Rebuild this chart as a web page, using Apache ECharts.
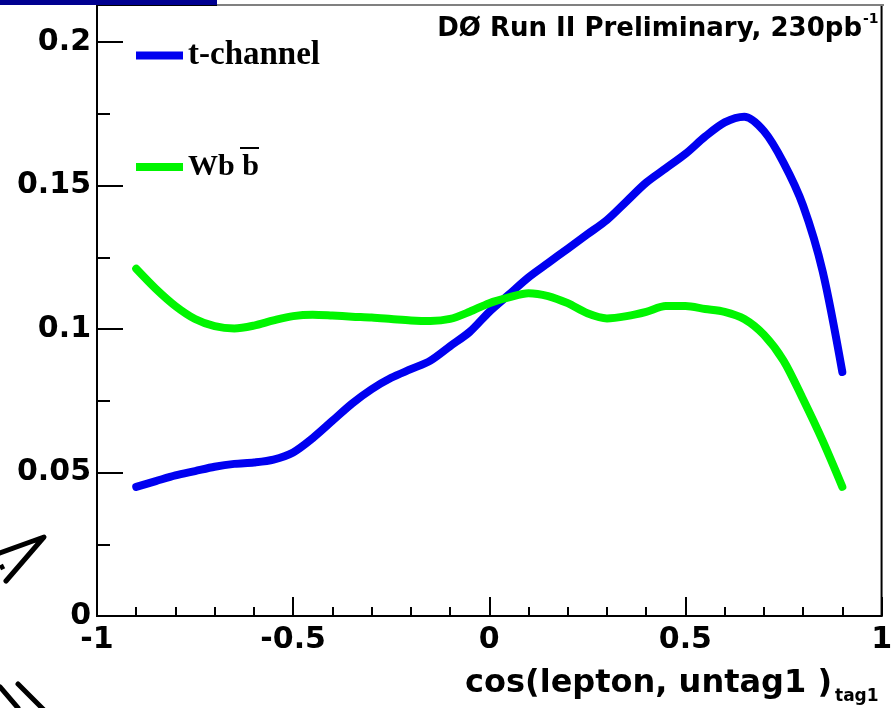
<!DOCTYPE html>
<html>
<head>
<meta charset="utf-8">
<script src="https://cdn.jsdelivr.net/npm/echarts@6/dist/echarts.min.js"></script>
<style>
html,body{margin:0;padding:0;background:#fff;}
#chart{width:895px;height:708px;}
</style>
</head>
<body>
<div id="chart"></div>
<script>
const xPoints = [-0.9,-0.85,-0.8,-0.75,-0.7,-0.65,-0.6,-0.55,-0.5,-0.45,-0.4,-0.35,-0.3,-0.25,-0.2,-0.15,-0.1,-0.05,0,0.05,0.1,0.15,0.2,0.25,0.3,0.35,0.4,0.45,0.5,0.55,0.6,0.65,0.7,0.75,0.8,0.85,0.9];
const tChannel = [0.045,0.047,0.049,0.0505,0.052,0.053,0.0535,0.0545,0.057,0.062,0.068,0.074,0.079,0.083,0.086,0.089,0.094,0.099,0.106,0.112,0.118,0.123,0.128,0.133,0.138,0.1445,0.151,0.156,0.161,0.167,0.172,0.174,0.169,0.158,0.143,0.120,0.085];
const wbb = [0.121,0.114,0.108,0.1035,0.101,0.1002,0.1012,0.103,0.1045,0.105,0.1047,0.1043,0.104,0.1035,0.103,0.1028,0.1035,0.106,0.109,0.111,0.1125,0.1115,0.109,0.1055,0.1037,0.1045,0.106,0.108,0.108,0.107,0.106,0.1035,0.098,0.089,0.0755,0.061,0.045];
const seriesNames = ['t-channel', 'Wbb'];
const yTickLabels = ['0', '0.05', '0.1', '0.15', '0.2'];
const xTickLabels = ['-1', '-0.5', '0', '0.5', '1'];
const titleText = 'DØ Run II Preliminary, 230pb';
const xTitleMain = 'cos(lepton, untag1 )';
const xTitleSub = 'tag1';

const chart = echarts.init(document.getElementById('chart'), null, {renderer: 'canvas'});
const pair = (ys) => xPoints.map((x, i) => [x, ys[i]]);
const labelFont = {fontFamily: 'DejaVu Sans', fontWeight: 'bold', fontSize: 30, color: '#000'};

function fmtY(v) {
  const s = String(+v.toFixed(3));
  return yTickLabels.indexOf(s) >= 0 ? s : '';
}
function fmtX(v) {
  const s = String(+v.toFixed(3));
  return xTickLabels.indexOf(s) >= 0 ? s : '';
}

const option = {
  animation: false,
  backgroundColor: '#fff',
  grid: {left: 97, right: 12, top: 5, bottom: 92, show: true, borderColor: '#000', borderWidth: 2, backgroundColor: 'transparent'},
  xAxis: [
    {type: 'value', min: -1, max: 1, interval: 0.5, position: 'bottom',
     axisLine: {show: true, onZero: false, lineStyle: {color: '#000', width: 2}},
     axisTick: {show: true, inside: true, length: 19, lineStyle: {color: '#000', width: 2}},
     axisLabel: Object.assign({margin: 9, formatter: fmtX, showMinLabel: true, showMaxLabel: true}, labelFont),
     splitLine: {show: false}},
    {type: 'value', min: -1, max: 1, interval: 0.1, position: 'bottom',
     axisLine: {show: false, onZero: false},
     axisTick: {show: true, inside: true, length: 9, lineStyle: {color: '#000', width: 2}},
     axisLabel: {show: false}, splitLine: {show: false}}
  ],
  yAxis: [
    {type: 'value', min: 0, max: 0.2129, interval: 0.05, position: 'left',
     axisLine: {show: true, onZero: false, lineStyle: {color: '#000', width: 2}},
     axisTick: {show: true, inside: true, length: 26, lineStyle: {color: '#000', width: 2}},
     axisLabel: Object.assign({margin: 6, formatter: fmtY, showMaxLabel: false}, labelFont),
     splitLine: {show: false}},
    {type: 'value', min: 0, max: 0.2129, interval: 0.025, position: 'left',
     axisLine: {show: false, onZero: false},
     axisTick: {show: true, inside: true, length: 13, lineStyle: {color: '#000', width: 2}},
     axisLabel: {show: false}, splitLine: {show: false}}
  ],
  legend: {
    orient: 'vertical', left: 131, top: 34, itemWidth: 47, itemHeight: 8, itemGap: 80,
    icon: 'rect', selectedMode: false,
    data: [
      {name: seriesNames[0], textStyle: {fontSize: 33}},
      {name: seriesNames[1]}
    ],
    formatter: (n) => n === 'Wbb' ? '{a|Wb} {a|b}' : n,
    textStyle: {fontFamily: 'Liberation Serif', fontWeight: 'bold', fontSize: 30, lineHeight: 30, color: '#000',
      rich: {a: {fontFamily: 'Liberation Serif', fontWeight: 'bold', fontSize: 30, lineHeight: 30, color: '#000'}}}
  },
  series: [
    {name: seriesNames[0], type: 'line', xAxisIndex: 0, yAxisIndex: 0, data: pair(tChannel), smooth: 0.3,
     showSymbol: false, lineStyle: {color: '#0000f0', width: 8, cap: 'round', join: 'round'}, itemStyle: {color: '#0000f0'}},
    {name: seriesNames[1], type: 'line', xAxisIndex: 0, yAxisIndex: 0, data: pair(wbb), smooth: 0.3,
     showSymbol: false, lineStyle: {color: '#00f500', width: 8, cap: 'round', join: 'round'}, itemStyle: {color: '#00f500'}}
  ],
  graphic: [
    {type: 'line', z: 100, shape: {x1: 217, y1: 5, x2: 884, y2: 5}, style: {stroke: '#808080', lineWidth: 2}},
    {type: 'rect', z: 101, shape: {x: 0, y: 0, width: 217, height: 5}, style: {fill: '#000090'}},
    {type: 'text', z: 100, style: {x: 862, y: 29, text: titleText, textAlign: 'right', textVerticalAlign: 'middle',
      font: 'bold 26px "DejaVu Sans"', fill: '#000'}},
    {type: 'text', z: 100, style: {x: 863, y: 19, text: '-1', textAlign: 'left', textVerticalAlign: 'middle',
      font: 'bold 14px "DejaVu Sans"', fill: '#000'}},
    {type: 'text', z: 100, style: {x: 832, y: 684, text: xTitleMain, textAlign: 'right', textVerticalAlign: 'middle',
      font: 'bold 32px "DejaVu Sans"', fill: '#000'}},
    {type: 'text', z: 100, style: {x: 835, y: 697, text: xTitleSub, textAlign: 'left', textVerticalAlign: 'middle',
      font: 'bold 17px "DejaVu Sans"', fill: '#000'}},
    {type: 'line', z: 100, shape: {x1: 240, y1: 148, x2: 259, y2: 148}, style: {stroke: '#000', lineWidth: 2}},
    {type: 'polyline', z: 100, shape: {points: [[0, 553], [44, 537], [6, 581]]}, style: {stroke: '#000', lineWidth: 5, lineCap: 'round', lineJoin: 'round', fill: null}},
    {type: 'line', z: 100, shape: {x1: 0, y1: 568, x2: 4, y2: 566}, style: {stroke: '#000', lineWidth: 5}},
    {type: 'line', z: 100, shape: {x1: 0, y1: 687, x2: 18, y2: 708}, style: {stroke: '#000', lineWidth: 5, lineCap: 'round'}},
    {type: 'line', z: 100, shape: {x1: 18, y1: 684, x2: 44, y2: 710}, style: {stroke: '#000', lineWidth: 5, lineCap: 'round'}}
  ]
};
chart.setOption(option);
</script>
</body>
</html>
